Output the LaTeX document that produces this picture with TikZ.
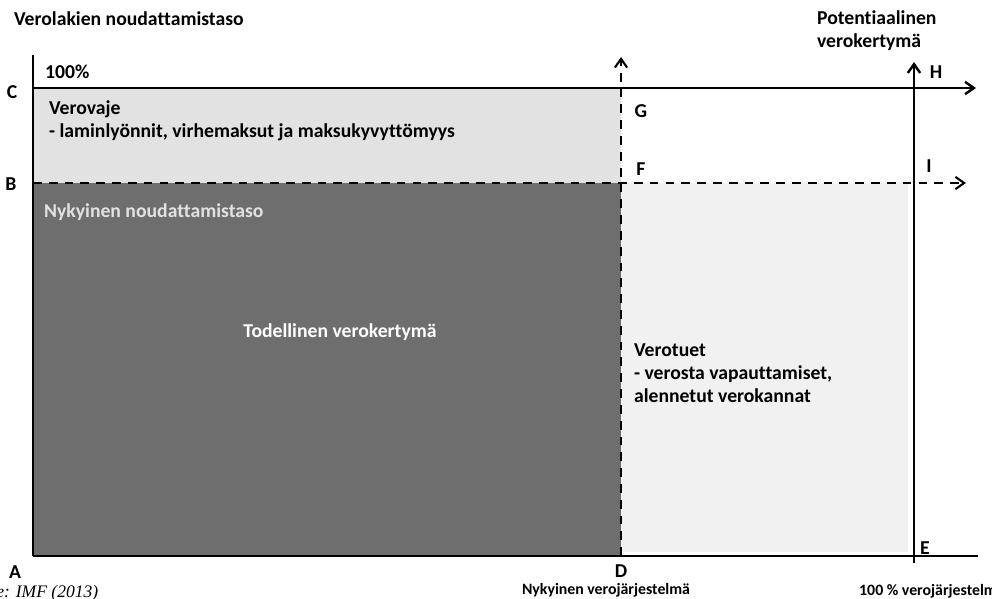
\documentclass[tikz,border=0pt]{standalone}
\usepackage{fontspec}
\setmainfont{Carlito}[Ligatures=NoCommon]
\newfontfamily\srcfont{Liberation Serif}
\usetikzlibrary{arrows.meta,positioning}
\definecolor{paleband}{HTML}{E2E2E2}
\definecolor{darkband}{HTML}{6E6E6E}
\definecolor{lightband}{HTML}{F1F1F1}
\tikzset{
  lbl/.style={font=\fontsize{11.2}{13}\selectfont\bfseries, inner sep=1pt},
  smalllbl/.style={font=\fontsize{9}{11}\selectfont\bfseries, inner sep=0.5pt},
  axis/.style={line width=1.4pt, -{Straight Barb[length=5pt,width=7pt]}},
  dashaxis/.style={line width=1.2pt, dash pattern=on 5pt off 4pt, -{Straight Barb[length=5pt,width=7pt]}}
}
\begin{document}
\begin{tikzpicture}[x=0.02cm,y=-0.02cm]
    \useasboundingbox (0,0) rectangle (992,599);

    % Pisteet
    \coordinate (A) at (33,556);
    \coordinate (D) at (621,556);
    \coordinate (E) at (914,556);
    \coordinate (C) at (33,88);
    \coordinate (B) at (33,183);
    \coordinate (F) at (621,183);
    \coordinate (G) at (621,88);

    % Alueet
    \fill[paleband] (C) rectangle (F);
    \fill[darkband] (B) rectangle (D);
    \fill[lightband] (F) rectangle (908,552);

    % Akselit
    \draw[line width=1.4pt] (A) -- (33,55);
    \draw[line width=1.4pt] (A) -- (978,556);
    \draw[axis] (C) -- (976,88);
    \draw[dashaxis] (B) -- (966,183);
    \draw[dashaxis] (D) -- (621,57);
    \draw[axis] (914,563) -- (914,62);

    % Tekstit
    \node[lbl,anchor=west] (ylab) at (12,19) {Verolakien noudattamistaso};
    \node[lbl,anchor=west] (pct) at (43,72) {100\%};
    \node[lbl] (lC) at (12,92) {C};
    \node[lbl] (lB) at (11,184) {B};
    \node[lbl] (lA) at (15,572) {A};
    \node[lbl,anchor=west,align=left] (vaje) at (47,121)
        {Verovaje\\- laminlyönnit, virhemaksut ja maksukyvyttömyys};
    \node[lbl,anchor=west,text=paleband] (nyk) at (42,212) {Nykyinen noudattamistaso};
    \node[lbl,text=white] (tod) at (340,332) {Todellinen verokertymä};
    \node[lbl] (lG) at (641,111) {G};
    \node[lbl] (lF) at (641,169) {F};
    \node[lbl] (lH) at (936,72) {H};
    \node[lbl] (lI) at (929,166) {I};
    \node[lbl,anchor=west,align=left] (tuet) at (632,373)
        {Verotuet\\- verosta vapauttamiset,\\alennetut verokannat};
    \node[lbl,anchor=west,align=left] (pot) at (815,31)
        {Potentiaalinen\\verokertymä};
    \node[lbl] (lD) at (621,571) {D};
    \node[lbl] (lE) at (925,548) {E};
    \node[smalllbl] (nykj) at (606,590) {Nykyinen verojärjestelmä};
    \node[smalllbl,anchor=west] (koko) at (858,591) {100 \% verojärjestelmä};
    \node[font=\srcfont\itshape\fontsize{10}{12}\selectfont,anchor=west,inner sep=0pt] (lahde) at (-4,593) {e: IMF (2013)};
\end{tikzpicture}
\end{document}
